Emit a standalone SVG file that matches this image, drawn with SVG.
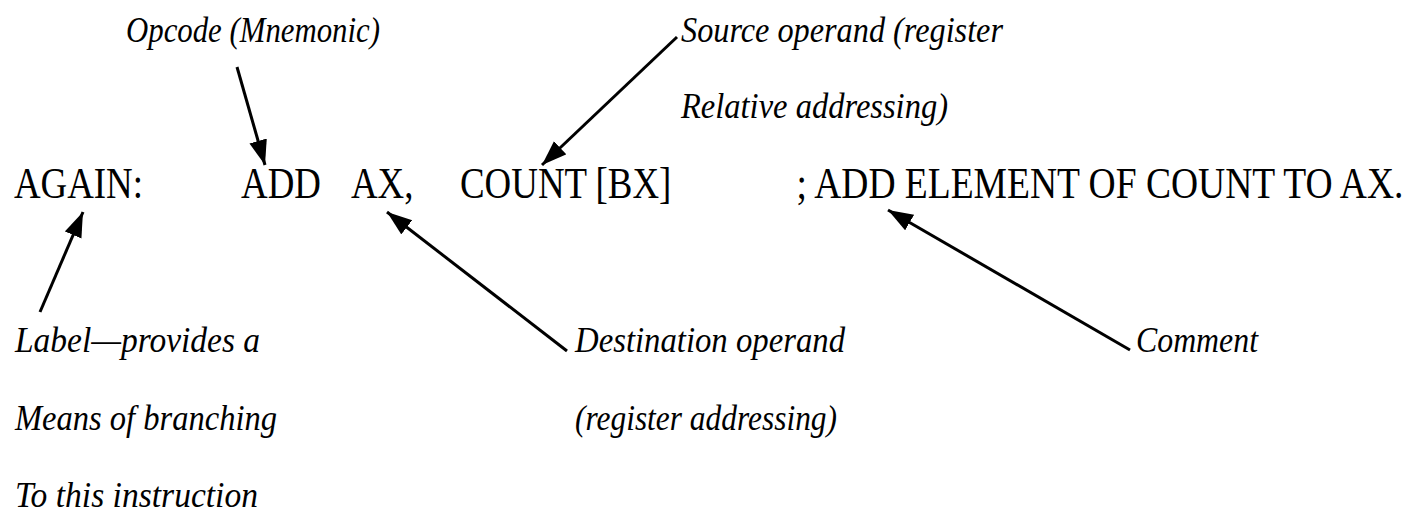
<svg xmlns="http://www.w3.org/2000/svg" width="1422" height="513" viewBox="0 0 1422 513">
  <style>
    .code { font-family: 'Liberation Serif', 'Times New Roman', 'DejaVu Serif', serif; font-size: 45px; fill: #000; }
    .note { font-family: 'Liberation Serif', 'Times New Roman', 'DejaVu Serif', serif; font-style: italic; font-size: 36px; fill: #000; }
    .arrow { stroke: #000; stroke-width: 3; fill: none; marker-end: url(#head); }
  </style>
  <defs>
    <marker id="head" markerUnits="userSpaceOnUse" markerWidth="26" markerHeight="20" refX="25" refY="9" orient="auto">
      <path d="M0,0 L25,9 L0,18 Z" fill="#000"/>
    </marker>
  </defs>
  <rect width="1422" height="513" fill="#fff"/>

  <g id="instruction">
    <g transform="scale(0.82,1)">
      <text class="code" x="17" y="198">AGAIN:</text>
      <text class="code" x="294" y="198">ADD</text>
      <text class="code" x="428" y="198">AX,</text>
      <text class="code" x="561" y="198">COUNT [BX]</text>
    </g>
    <g transform="scale(0.834,1)">
      <text class="code" x="955" y="198">; ADD ELEMENT OF COUNT TO AX.</text>
    </g>
  </g>

  <g id="opcode-note">
    <text class="note" x="126" y="42" textLength="254" lengthAdjust="spacingAndGlyphs">Opcode (Mnemonic)</text>
  </g>

  <g id="source-note">
    <text class="note" x="681" y="42" textLength="322" lengthAdjust="spacingAndGlyphs">Source operand (register</text>
    <text class="note" x="681" y="118" textLength="267" lengthAdjust="spacingAndGlyphs">Relative addressing)</text>
  </g>

  <g id="label-note">
    <text class="note" x="15" y="352" textLength="245" lengthAdjust="spacingAndGlyphs">Label—provides a</text>
    <text class="note" x="15" y="430" textLength="262" lengthAdjust="spacingAndGlyphs">Means of branching</text>
    <text class="note" x="15" y="507" textLength="243" lengthAdjust="spacingAndGlyphs">To this instruction</text>
  </g>

  <g id="destination-note">
    <text class="note" x="575" y="352" textLength="270" lengthAdjust="spacingAndGlyphs">Destination operand</text>
    <text class="note" x="575" y="430" textLength="262" lengthAdjust="spacingAndGlyphs">(register addressing)</text>
  </g>

  <g id="comment-note">
    <text class="note" x="1136" y="352" textLength="122" lengthAdjust="spacingAndGlyphs">Comment</text>
  </g>

  <g id="connectors">
    <line class="arrow" x1="237" y1="67" x2="265" y2="165"/>
    <line class="arrow" x1="677" y1="37" x2="542" y2="165"/>
    <line class="arrow" x1="40" y1="312" x2="83" y2="212"/>
    <line class="arrow" x1="567" y1="351" x2="387" y2="212"/>
    <line class="arrow" x1="1130" y1="350" x2="888" y2="210"/>
  </g>
</svg>
